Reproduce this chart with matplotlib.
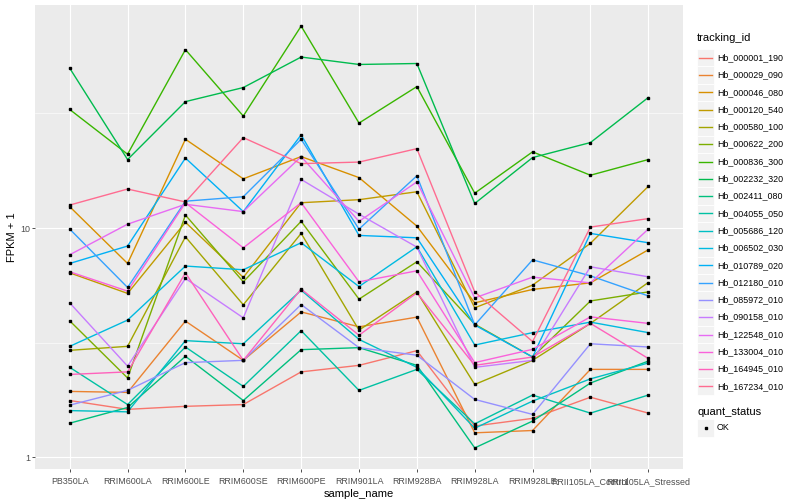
import matplotlib
matplotlib.use("Agg")
import matplotlib.pyplot as plt
from matplotlib.lines import Line2D
from matplotlib.patches import Rectangle
import numpy as np

plt.rcParams["font.family"] = ["Liberation Sans", "DejaVu Sans"]

samples = ["PB350LA", "RRIM600LA", "RRIM600LE", "RRIM600SE", "RRIM600PE",
           "RRIM901LA", "RRIM928BA", "RRIM928LA", "RRIM928LE",
           "RRII105LA_Control", "RRII105LA_Stressed"]

tracking_ids = ["Hb_000001_190", "Hb_000029_090", "Hb_000046_080", "Hb_000120_540",
                "Hb_000580_100", "Hb_000622_200", "Hb_000836_300", "Hb_002232_320",
                "Hb_002411_080", "Hb_004055_050", "Hb_005686_120", "Hb_006502_030",
                "Hb_010789_020", "Hb_012180_010", "Hb_085972_010", "Hb_090158_010",
                "Hb_122548_010", "Hb_133004_010", "Hb_164945_010", "Hb_167234_010"]

# FPKM + 1 per gene, one value per sample
fpkm = [
    [1.77, 1.62, 1.67, 1.70, 2.36, 2.52, 2.92, 1.37, 1.48, 1.83, 1.56],
    [1.94, 1.92, 3.93, 2.65, 4.31, 3.71, 4.09, 1.28, 1.31, 2.42, 2.42],
    [12.4, 7.01, 24.4, 16.4, 20.5, 16.6, 10.2, 4.72, 5.40, 5.77, 8.04],
    [6.38, 5.19, 10.6, 6.09, 12.9, 13.3, 14.4, 4.49, 5.64, 8.58, 15.2],
    [2.93, 3.05, 9.16, 4.63, 9.48, 3.59, 5.27, 2.08, 2.65, 3.84, 5.79],
    [3.94, 2.22, 11.4, 5.83, 10.7, 4.90, 7.13, 3.81, 2.74, 4.81, 5.27],
    [32.9, 21.0, 60.0, 30.8, 76.0, 28.7, 41.4, 14.2, 21.5, 17.0, 19.9],
    [49.8, 19.9, 35.6, 41.0, 55.7, 51.7, 52.2, 12.8, 20.3, 23.6, 37.1],
    [1.41, 1.65, 2.76, 1.77, 2.95, 3.01, 2.52, 1.10, 1.44, 2.11, 2.63],
    [2.47, 1.70, 3.03, 2.04, 3.57, 1.96, 2.42, 1.40, 1.87, 1.56, 1.87],
    [1.60, 1.58, 3.23, 3.13, 5.36, 3.27, 2.47, 1.34, 1.76, 2.20, 2.58],
    [3.05, 3.97, 6.83, 6.58, 8.63, 5.56, 8.29, 3.09, 3.50, 3.89, 3.50],
    [7.01, 8.35, 20.2, 11.8, 25.5, 9.29, 9.07, 3.78, 2.74, 9.48, 8.63],
    [9.90, 5.51, 13.1, 13.7, 24.4, 9.90, 16.9, 3.78, 7.27, 6.19, 5.06],
    [1.69, 1.96, 2.59, 2.65, 4.64, 3.01, 2.79, 1.79, 1.54, 3.13, 3.03],
    [4.72, 2.50, 6.03, 4.06, 16.3, 11.5, 8.26, 2.47, 2.65, 6.78, 6.13],
    [7.65, 10.4, 12.7, 11.8, 20.5, 10.7, 15.9, 4.96, 6.11, 5.77, 9.90],
    [6.45, 5.31, 12.9, 8.20, 12.9, 5.83, 6.51, 2.59, 2.96, 4.10, 3.84],
    [2.30, 2.36, 6.38, 2.65, 5.42, 3.41, 5.22, 2.52, 2.74, 3.84, 2.70],
    [12.6, 14.8, 13.0, 24.8, 19.1, 19.4, 22.2, 5.27, 3.20, 10.1, 11.0],
]

# ggplot hue palette, 20 levels
colors = ["#F8766D", "#EA8331", "#D89000", "#C09B00", "#A3A500", "#7CAE00", "#39B600",
          "#00BB4E", "#00BF7D", "#00C1A3", "#00BFC4", "#00BAE0", "#00B0F6", "#35A2FF",
          "#9590FF", "#C77CFF", "#E76BF3", "#FA62DB", "#FF62BC", "#FF6C91"]

W, H = 800, 500
fig = plt.figure(figsize=(8, 5), dpi=100)
fig.subplots_adjust(left=35 / W, right=683 / W, bottom=1 - 469 / H, top=1 - 5 / H)
ax = fig.add_subplot(111)
ax.set_facecolor("#EBEBEB")

x = np.arange(len(samples))
for vals, c in zip(fpkm, colors):
    ax.plot(x, vals, color=c, lw=1.0, zorder=2)
for vals in fpkm:
    ax.plot(x, vals, ls="none", marker="s", ms=1.9, color="black", zorder=3)

ax.set_yscale("log")
allv = np.log10(np.array(fpkm))
lo, hi = allv.min(), allv.max()
pad = 0.05 * (hi - lo)
ax.set_ylim(10 ** (lo - pad), 10 ** (hi + pad))
ax.set_xlim(-0.6, len(samples) - 0.4)

ax.set_yticks([1, 10])
ax.set_yticklabels(["1", "10"])
ax.yaxis.set_minor_locator(matplotlib.ticker.FixedLocator([10 ** 0.5, 10 ** 1.5]))
ax.yaxis.set_minor_formatter(matplotlib.ticker.NullFormatter())
ax.set_xticks(x)
ax.set_xticklabels(samples)

ax.grid(True, which="major", color="white", lw=0.8)
ax.grid(True, which="minor", axis="y", color="white", lw=0.4)
ax.set_axisbelow(True)
for s in ax.spines.values():
    s.set_visible(False)
ax.tick_params(which="major", length=2, width=0.6, color="#333333",
               labelsize=6.4, labelcolor="#4D4D4D", pad=1.5)
ax.tick_params(axis="x", which="major", pad=4)
ax.tick_params(which="minor", length=0)

ax.set_xlabel("sample_name", fontsize=8, labelpad=2)
ax.set_ylabel("FPKM + 1", fontsize=8, labelpad=2)

# legend drawn like ggplot's guide
def fx(px):
    return px / W


def fy(py):
    return 1 - py / H


fig.text(fx(697), fy(38), "tracking_id", fontsize=8, va="center", ha="left")
step = 17.3
for i, (name, c) in enumerate(zip(tracking_ids, colors)):
    yc = 57.7 + i * step
    fig.add_artist(Rectangle((fx(697), fy(yc + step / 2)), fx(17), step / H,
                             facecolor="#F2F2F2", edgecolor="white", lw=0.6))
    fig.add_artist(Line2D([fx(699), fx(712)], [fy(yc), fy(yc)], color=c, lw=1.0))
    fig.text(fx(717), fy(yc), name, fontsize=6.4, va="center", ha="left")

fig.text(fx(697), fy(412), "quant_status", fontsize=8, va="center", ha="left")
fig.add_artist(Rectangle((fx(697), fy(428 + step / 2)), fx(17), step / H,
                         facecolor="#F2F2F2", edgecolor="white", lw=0.6))
fig.add_artist(Line2D([fx(705.5)], [fy(428)], ls="none", marker="s", ms=1.9, color="black"))
fig.text(fx(717), fy(428), "OK", fontsize=6.4, va="center", ha="left")

fig.savefig("out.png", dpi=100)
